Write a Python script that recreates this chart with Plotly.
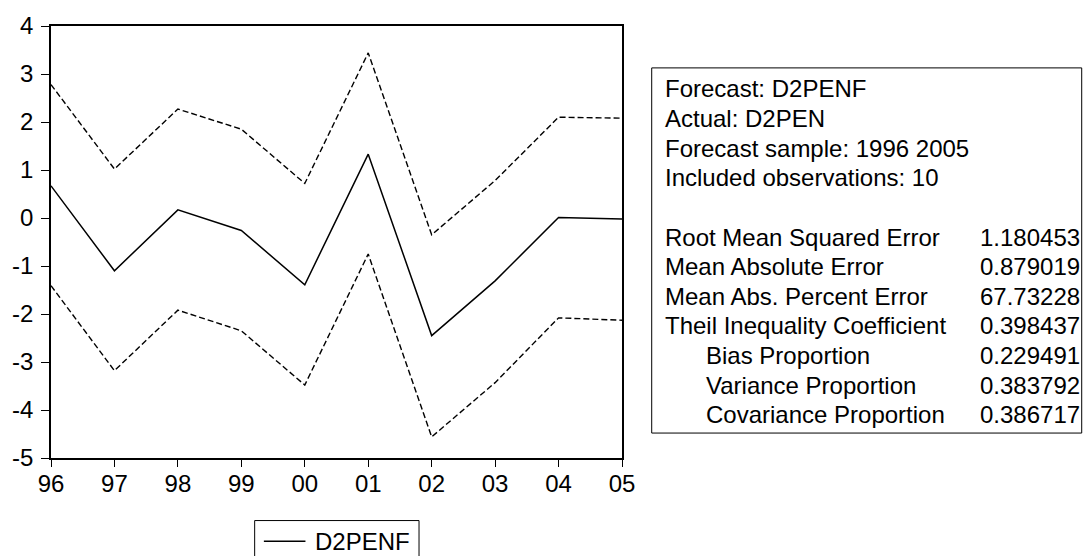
import plotly.graph_objects as go

# ---- data ----
years = [1996, 1997, 1998, 1999, 2000, 2001, 2002, 2003, 2004, 2005]
tick_labels = ["96", "97", "98", "99", "00", "01", "02", "03", "04", "05"]
forecast = [0.67, -1.10, 0.17, -0.26, -1.39, 1.33, -2.45, -1.31, 0.01, -0.02]
upper = [2.78, 1.02, 2.27, 1.85, 0.72, 3.44, -0.35, 0.78, 2.10, 2.08]
lower = [-1.41, -3.18, -1.92, -2.35, -3.48, -0.75, -4.56, -3.43, -2.08, -2.13]
y_ticks = [-5, -4, -3, -2, -1, 0, 1, 2, 3, 4]

header_lines = [
    "Forecast: D2PENF",
    "Actual: D2PEN",
    "Forecast sample: 1996 2005",
    "Included observations: 10",
]
stat_labels = [
    "Root Mean Squared Error",
    "Mean Absolute Error",
    "Mean Abs. Percent Error",
    "Theil Inequality Coefficient",
    "Bias Proportion",
    "Variance Proportion",
    "Covariance Proportion",
]
stat_indent = [False, False, False, False, True, True, True]
stat_values = ["1.180453", "0.879019", "67.73228", "0.398437",
               "0.229491", "0.383792", "0.386717"]
legend_name = "D2PENF"

# ---- layout geometry (pixels) ----
W, H = 1087, 556
PL, PR, PT, PB = 45, 621.7, 25, 458
FONT = "Liberation Sans, Arial, sans-serif"


def px(x):
    return (x - PL) / (PR - PL)


def py(y):
    return (PB - y) / (PB - PT)


fig = go.Figure()
dash = "6px,3px"
fig.add_trace(go.Scatter(x=years, y=upper, mode="lines", showlegend=False,
                         line=dict(color="black", width=1.4, dash=dash)))
fig.add_trace(go.Scatter(x=years, y=forecast, mode="lines", name=legend_name,
                         line=dict(color="black", width=1.5)))
fig.add_trace(go.Scatter(x=years, y=lower, mode="lines", showlegend=False,
                         line=dict(color="black", width=1.4, dash=dash)))

shapes = []
annotations = []

# stats box
shapes.append(dict(type="rect", xref="paper", yref="paper",
                   x0=px(651.7), x1=px(1086), y0=py(67), y1=py(433),
                   line=dict(color="black", width=1), fillcolor="rgba(0,0,0,0)"))

line_h = 29.7
y0 = 88
for i, t in enumerate(header_lines):
    annotations.append(dict(xref="paper", yref="paper", x=px(663), y=py(y0 + i * line_h),
                            text=t, showarrow=False, xanchor="left", yanchor="middle",
                            font=dict(family=FONT, size=24, color="black")))
ys = y0 + 5 * line_h
for i, (lab, ind, val) in enumerate(zip(stat_labels, stat_indent, stat_values)):
    yy = ys + i * line_h
    annotations.append(dict(xref="paper", yref="paper", x=px(705 if ind else 663), y=py(yy),
                            text=lab, showarrow=False, xanchor="left", yanchor="middle",
                            font=dict(family=FONT, size=24, color="black")))
    annotations.append(dict(xref="paper", yref="paper", x=px(981), y=py(yy),
                            text=val, showarrow=False, xanchor="left", yanchor="middle",
                            font=dict(family=FONT, size=24, color="black")))

# legend (drawn below the plot)
shapes.append(dict(type="rect", xref="paper", yref="paper",
                   x0=px(250.7), x1=px(416.7), y0=py(520.7), y1=py(570),
                   line=dict(color="black", width=1), fillcolor="white"))
shapes.append(dict(type="line", xref="paper", yref="paper",
                   x0=px(260), x1=px(302), y0=py(541.5), y1=py(541.5),
                   line=dict(color="black", width=1.5)))
annotations.append(dict(xref="paper", yref="paper", x=px(310), y=py(541.5),
                        text=legend_name, showarrow=False, xanchor="left", yanchor="middle",
                        font=dict(family=FONT, size=24, color="black")))

fig.update_layout(
    width=W, height=H,
    margin=dict(l=PL, r=W - PR, t=PT, b=H - PB, pad=0),
    paper_bgcolor="white", plot_bgcolor="white",
    showlegend=False,
    font=dict(family=FONT, size=24, color="black"),
    shapes=shapes, annotations=annotations,
    xaxis=dict(range=[years[0], years[-1]], tickvals=years, ticktext=tick_labels,
               showgrid=False, zeroline=False, showline=True, mirror=True,
               linecolor="black", linewidth=1.5, ticks="outside", ticklen=7,
               tickcolor="black", tickwidth=1, tickfont=dict(size=24),
               ticklabelstandoff=-4),
    yaxis=dict(range=[-5, 4], tickvals=y_ticks, ticktext=[str(v) for v in y_ticks],
               showgrid=False, zeroline=False, showline=True, mirror=True,
               linecolor="black", linewidth=1.5, ticks="outside", ticklen=8,
               tickcolor="black", tickwidth=1, tickfont=dict(size=24),
               ticklabelstandoff=3),
)

fig.write_html("out.html")
